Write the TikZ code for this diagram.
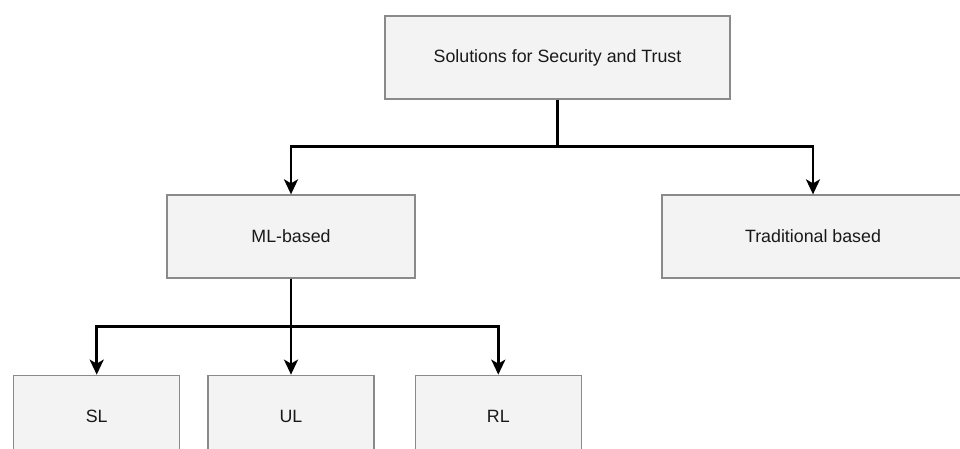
\documentclass[tikz,border=0pt]{standalone}
\usepackage{fontspec}
\setmainfont{Liberation Sans}
\usepackage{tikz}
\usetikzlibrary{arrows.meta,positioning,calc}

\definecolor{boxfill}{HTML}{F3F3F3}
\definecolor{boxline}{HTML}{8A8A8A}

\begin{document}
\begin{tikzpicture}[
    x=1pt, y=1pt,
    every node/.style={font=\fontsize{17.8}{20}\selectfont, text=black!90},
    mainbox/.style={rectangle, draw=boxline, line width=1.3pt, fill=boxfill, minimum height=83pt, inner sep=0pt, text centered},
    arrow/.style={line width=2.6pt, -{Stealth[length=15pt, width=14pt, inset=4pt]}}
]
    \clip (0,0) rectangle (960,-449);

    % Top level
    \node[mainbox, minimum width=345pt] (root) at (557.5,-57.5) {Solutions for Security and Trust};

    % Second level
    \node[mainbox, minimum width=248pt] (ml) at (291,-236.5) {ML-based};
    \node[mainbox, minimum width=302pt] (trad) at (813,-236.5) {Traditional based};

    % Third level
    \node[mainbox, minimum width=166pt, below=96pt of ml] (ul) {UL};
    \node[mainbox, minimum width=166pt, left=27pt of ul] (sl) {SL};
    \node[mainbox, minimum width=166pt, right=40pt of ul] (rl) {RL};

    % Connectors
    \draw[arrow] (root.south) -- ++(0,-47) -| (ml.north);
    \draw[arrow] (root.south) -- ++(0,-47) -| (trad.north);

    \draw[arrow] (ml.south) -- ++(0,-48) -| (sl.north);
    \draw[arrow] (ml.south) -- (ul.north);
    \draw[arrow] (ml.south) -- ++(0,-48) -| (rl.north);

\end{tikzpicture}
\end{document}
